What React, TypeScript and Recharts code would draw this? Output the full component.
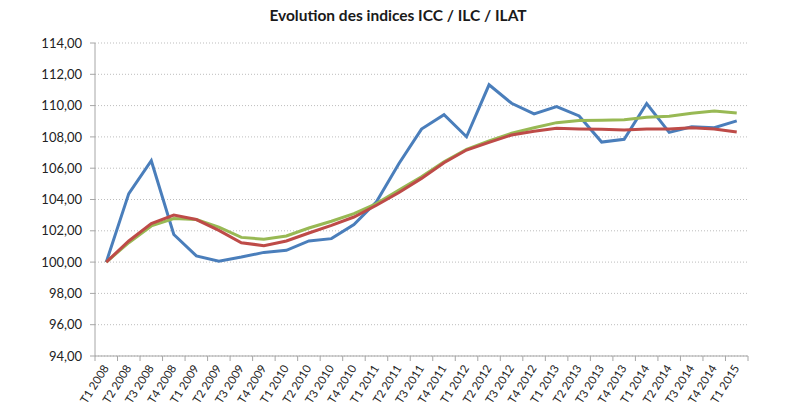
import { LineChart, Line, XAxis, YAxis, CartesianGrid } from 'recharts'

const quarters = [
  'T1 2008', 'T2 2008', 'T3 2008', 'T4 2008',
  'T1 2009', 'T2 2009', 'T3 2009', 'T4 2009',
  'T1 2010', 'T2 2010', 'T3 2010', 'T4 2010',
  'T1 2011', 'T2 2011', 'T3 2011', 'T4 2011',
  'T1 2012', 'T2 2012', 'T3 2012', 'T4 2012',
  'T1 2013', 'T2 2013', 'T3 2013', 'T4 2013',
  'T1 2014', 'T2 2014', 'T3 2014', 'T4 2014',
  'T1 2015',
]

const icc = [
  100.0, 104.38, 106.48, 101.76, 100.4, 100.06, 100.32, 100.62,
  100.75, 101.35, 101.5, 102.4, 103.85, 106.3, 108.5, 109.42,
  108.01, 111.33, 110.15, 109.47, 109.94, 109.34, 107.67, 107.85,
  110.13, 108.29, 108.65, 108.59, 109.02,
]

const ilat = [
  100.0, 101.24, 102.31, 102.78, 102.72, 102.24, 101.58, 101.46,
  101.67, 102.18, 102.61, 103.1, 103.74, 104.6, 105.45, 106.41,
  107.2, 107.74, 108.23, 108.58, 108.91, 109.04, 109.06, 109.1,
  109.25, 109.32, 109.51, 109.66, 109.53,
]

const ilc = [
  100.0, 101.35, 102.46, 103.01, 102.72, 102.03, 101.24, 101.05,
  101.35, 101.86, 102.35, 102.88, 103.63, 104.45, 105.35, 106.35,
  107.16, 107.65, 108.12, 108.36, 108.55, 108.51, 108.49, 108.44,
  108.51, 108.51, 108.59, 108.51, 108.31,
]

const yTicks = [94, 96, 98, 100, 102, 104, 106, 108, 110, 112, 114]

const data = quarters.map((q, i) => ({ q, icc: icc[i], ilat: ilat[i], ilc: ilc[i] }))

const FONT = 'Lato, "Open Sans", sans-serif'
const AXIS = '#a6a6a6'
const HALF = 653 / quarters.length / 2

function QuarterTick(props: any) {
  const { x, y, payload, index } = props
  return (
    <g>
      <line x1={x - HALF} y1={y - 8} x2={x - HALF} y2={y - 3} stroke={AXIS} />
      {index === quarters.length - 1 && (
        <line x1={x + HALF} y1={y - 8} x2={x + HALF} y2={y - 3} stroke={AXIS} />
      )}
      <text
        x={x + 3}
        y={y + 4}
        textAnchor="end"
        fontSize={11.5}
        fill="#222"
        fontFamily={FONT}
        transform={`rotate(-58, ${x + 3}, ${y + 4})`}
      >
        {payload.value}
      </text>
    </g>
  )
}

export default function App() {
  return (
    <div style={{ position: 'absolute', left: 0, top: 0, width: 800, height: 409, background: '#fff' }}>
      <div
        style={{
          position: 'absolute',
          top: 6,
          left: 0,
          width: 796,
          textAlign: 'center',
          fontFamily: FONT,
          fontWeight: 700,
          fontSize: 15.5,
          color: '#1a1a1a',
        }}
      >
        Evolution des indices ICC / ILC / ILAT
      </div>
      <LineChart width={800} height={409} data={data} margin={{ top: 43, right: 52, left: 0, bottom: 0 }}>
        <CartesianGrid vertical={false} stroke="#bdbdbd" strokeDasharray="1 2" />
        <XAxis
          dataKey="q"
          interval={0}
          height={53}
          padding={{ left: HALF, right: HALF }}
          axisLine={{ stroke: AXIS }}
          tickLine={false}
          tick={<QuarterTick />}
        />
        <YAxis
          domain={[94, 114]}
          ticks={yTicks}
          width={95}
          axisLine={{ stroke: AXIS }}
          tickLine={{ stroke: AXIS }}
          tickSize={5}
          tickMargin={8}
          tick={{ fontSize: 13, fill: '#222', fontFamily: FONT }}
          tickFormatter={(v: number) => v.toFixed(2).replace('.', ',')}
        />
        <Line type="linear" dataKey="icc" stroke="#4a7ebb" strokeWidth={3} dot={false} isAnimationActive={false} />
        <Line type="linear" dataKey="ilat" stroke="#98b954" strokeWidth={3} dot={false} isAnimationActive={false} />
        <Line type="linear" dataKey="ilc" stroke="#be4b48" strokeWidth={3} dot={false} isAnimationActive={false} />
      </LineChart>
    </div>
  )
}
